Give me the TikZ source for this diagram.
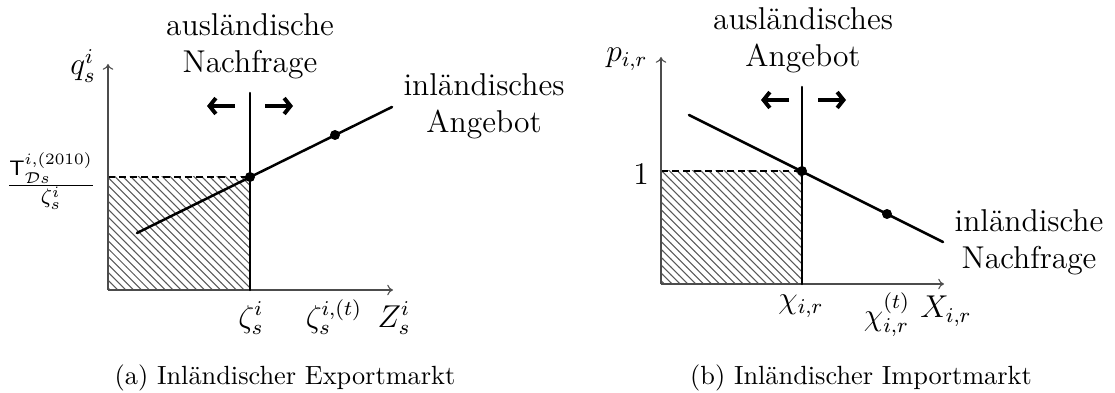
\documentclass[tikz,border=0pt]{standalone}
\usetikzlibrary{patterns,arrows.meta}

\tikzset{
  axis/.style={line width=0.4pt,black!70,-{To[length=2.2pt,width=4pt]}},
  curve/.style={line width=0.95pt,line cap=round},
  shiftarrow/.style={line width=1.5pt,-{Straight Barb[length=2.4pt,width=6pt]}},
  marketlabel/.style={font=\large,align=center,inner sep=0pt},
  ticklabel/.style={font=\large,inner sep=0pt,anchor=base},
  dot/.style={circle,fill,inner sep=0pt,minimum size=3.8pt},
}

\begin{document}
\begin{tikzpicture}[x=0.3802pt,y=-0.3802pt,line join=round]
  \useasboundingbox (0,0) rectangle (1115,393);
  % (a) Exportmarkt
  \coordinate (O1) at (108,290);
  \coordinate (Y1) at (108,64);
  \coordinate (X1) at (393,290);
  \coordinate (E1) at (250,177);
  \coordinate (T1) at (250,93);
  \coordinate (S1a) at (137,233);
  \coordinate (S1b) at (392,107);
  \fill[pattern=north west lines,pattern color=black!65] (O1) rectangle (E1);
  \draw[line width=0.4pt,dash pattern=on 2.6pt off 1.6pt] (O1 |- E1) -- (E1);
  \draw[axis] (O1) -- (Y1);
  \draw[axis] (O1) -- (X1);
  \draw[curve] (T1) -- (O1 -| E1);
  \draw[curve] (S1a) -- (S1b);
  \node[dot] (e1) at (E1) {};
  \node[dot] (f1) at (335,135) {};
  \draw[shiftarrow] (235,106) -- (207,106);
  \draw[shiftarrow] (265,106) -- (293,106);
  \node[marketlabel] (nachfrage1) at (250,46) {ausländische\\Nachfrage};
  \node[marketlabel] (angebot1) at (484,106) {inländisches\\Angebot};
  \node[font=\large,inner sep=0pt] (q1) at (83,66) {$q^i_s$};
  \node[font=\large,inner sep=0pt] (frac1) at (51,181)
    {$\frac{\mathsf{T}^{i,(2010)}_{\mathcal{D}s}}{\zeta^i_s}$};
  \node[ticklabel] (zeta1) at (251,327) {$\zeta^i_s$};
  \node[ticklabel] (zetat1) at (334,327) {$\zeta^{i,(t)}_s$};
  \node[ticklabel] (z1) at (394,327) {$Z^i_s$};
  \node[inner sep=0pt] (cap1) at (285,378) {(a) Inländischer Exportmarkt};

  % (b) Importmarkt
  \coordinate (O2) at (661,284);
  \coordinate (Y2) at (661,57);
  \coordinate (X2) at (944,284);
  \coordinate (E2) at (802,171);
  \coordinate (T2) at (802,87);
  \coordinate (D2a) at (689,115);
  \coordinate (D2b) at (943,242);
  \fill[pattern=north west lines,pattern color=black!65] (O2) rectangle (E2);
  \draw[line width=0.4pt,dash pattern=on 2.6pt off 1.6pt] (O2 |- E2) -- (E2);
  \draw[axis] (O2) -- (Y2);
  \draw[axis] (O2) -- (X2);
  \draw[curve] (T2) -- (O2 -| E2);
  \draw[curve] (D2a) -- (D2b);
  \node[dot] (e2) at (E2) {};
  \node[dot] (f2) at (887,214) {};
  \draw[shiftarrow] (789,100) -- (761,100);
  \draw[shiftarrow] (818,100) -- (846,100);
  \node[marketlabel] (angebot2) at (803,40) {ausländisches\\Angebot};
  \node[marketlabel] (nachfrage2) at (1029,242) {inländische\\Nachfrage};
  \node[font=\large,inner sep=0pt] (p2) at (627,59) {$p_{i,r}$};
  \node[font=\large,inner sep=0pt] (one2) at (641,174) {$1$};
  \node[ticklabel] (chi2) at (801,309) {$\chi_{i,r}$};
  \node[ticklabel] (chit2) at (887,325) {$\chi^{(t)}_{i,r}$};
  \node[ticklabel] (x2) at (946,318) {$X_{i,r}$};
  \node[inner sep=0pt] (cap2) at (861,378) {(b) Inländischer Importmarkt};
\end{tikzpicture}
\end{document}
